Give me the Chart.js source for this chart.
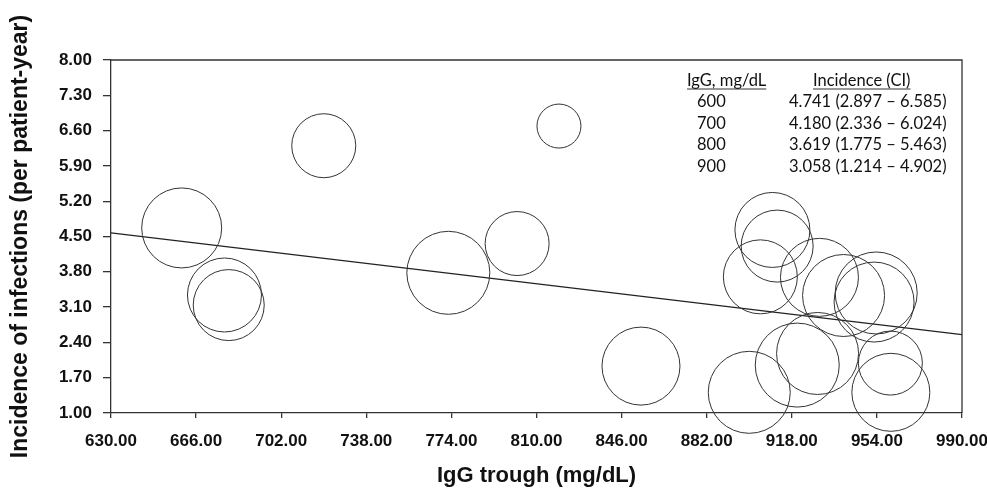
<!DOCTYPE html>
<html>
<head>
<meta charset="utf-8">
<title>IgG trough vs incidence of infections</title>
<script src="https://cdn.jsdelivr.net/npm/chart.js@4/dist/chart.umd.min.js"></script>
<style>
  html, body { margin: 0; padding: 0; background: #fff; }
  #wrap { width: 987px; height: 489px; }
</style>
</head>
<body>
<div id="wrap"><canvas id="chart" width="987" height="489"></canvas></div>
<script>
// bubbles: IgG trough (mg/dL), incidence (per patient-year), bubble size
const iggTrough = [659.9, 678.0, 679.8, 720.0, 772.7, 801.8, 819.5, 854.2, 909.8, 911.8,
                   904.7, 929.7, 939.9, 953.7, 952.8, 928.9, 920.3, 959.7, 959.9, 900.0];
const incidence = [4.67, 3.34, 3.14, 6.30, 3.78, 4.36, 6.69, 1.93, 4.63, 4.31,
                   3.70, 3.69, 3.33, 3.38, 3.20, 2.18, 1.95, 1.99, 1.41, 1.41];
const bubbleSize = [40, 37, 35.5, 32, 41.5, 32, 22, 39, 37.5, 36,
                    37, 39, 41, 41, 40, 41, 42, 32, 39, 41];

// fitted line
const trendX = [630, 990];
const trendY = [4.573, 2.553];

// axis ticks
const xTicks = [630, 666, 702, 738, 774, 810, 846, 882, 918, 954, 990];
const yTicks = [1.00, 1.70, 2.40, 3.10, 3.80, 4.50, 5.20, 5.90, 6.60, 7.30, 8.00];

// inset table
const tableIgG = ['600', '700', '800', '900'];
const tableIncidence = ['4.741 (2.897 \u2013 6.585)', '4.180 (2.336 \u2013 6.024)',
                        '3.619 (1.775 \u2013 5.463)', '3.058 (1.214 \u2013 4.902)'];

const LINE = '#333';
const TXT = '#111';
const AXIS_FONT = '"Liberation Sans", Arial, sans-serif';

const bubblePoints = iggTrough.map((x, i) => ({ x: x, y: incidence[i], r: bubbleSize[i] }));
const trendPoints = trendX.map((x, i) => ({ x: x, y: trendY[i] }));

// top and right frame of the plot + inset table
const framePlugin = {
  id: 'frame',
  afterDraw(chart) {
    const { ctx, chartArea: a } = chart;
    ctx.save();
    ctx.strokeStyle = LINE;
    ctx.lineWidth = 1.3;
    ctx.beginPath();
    ctx.moveTo(a.left, a.top);
    ctx.lineTo(a.right, a.top);
    ctx.lineTo(a.right, a.bottom);
    ctx.stroke();

    // table text (slightly tall font like the original)
    const sy = 1.08;
    ctx.font = '16.5px Lato, "Open Sans", sans-serif';
    ctx.fillStyle = TXT;
    ctx.textBaseline = 'alphabetic';
    ctx.lineWidth = 1;
    const drawText = (t, x, y, underline) => {
      ctx.save();
      ctx.translate(x, y);
      ctx.scale(1, sy);
      ctx.fillText(t, 0, 0);
      ctx.restore();
      if (underline) {
        const w = ctx.measureText(t).width;
        ctx.beginPath();
        ctx.moveTo(x, y + 3);
        ctx.lineTo(x + w, y + 3);
        ctx.stroke();
      }
    };
    ctx.textAlign = 'left';
    drawText('IgG, mg/dL', 687, 86, true);
    drawText('Incidence (CI)', 813, 86, true);
    tableIgG.forEach((t, i) => {
      const y = 107 + i * 21.7;
      drawText(t, 697, y, false);
      drawText(tableIncidence[i], 789, y, false);
    });
    ctx.restore();
  }
};

new Chart(document.getElementById('chart'), {
  type: 'bubble',
  data: {
    datasets: [
      {
        type: 'bubble',
        data: bubblePoints,
        backgroundColor: 'rgba(0,0,0,0)',
        borderColor: LINE,
        borderWidth: 1,
        hoverBorderWidth: 1,
        clip: false
      },
      {
        type: 'line',
        data: trendPoints,
        borderColor: '#222',
        borderWidth: 1.3,
        pointRadius: 0,
        fill: false,
        clip: false
      }
    ]
  },
  options: {
    responsive: false,
    animation: false,
    events: [],
    layout: { autoPadding: false, padding: { left: 0, top: 60, right: 25, bottom: 0 } },
    plugins: {
      legend: { display: false },
      tooltip: { enabled: false }
    },
    scales: {
      x: {
        type: 'linear',
        min: xTicks[0],
        max: xTicks[xTicks.length - 1],
        afterBuildTicks: (s) => { s.ticks = xTicks.map(v => ({ value: v })); },
        afterFit: (s) => { s.height = 76; s.paddingLeft = 0; s.paddingRight = 0; },
        ticks: {
          autoSkip: false,
          maxRotation: 0,
          padding: 13,
          color: TXT,
          font: { family: AXIS_FONT, size: 17, weight: 'bold' },
          callback: (v) => Number(v).toFixed(2)
        },
        grid: { drawOnChartArea: false, drawTicks: true, tickLength: 5, color: LINE, lineWidth: 1.3 },
        border: { display: true, color: LINE, width: 1.3 },
        title: {
          display: true,
          text: 'IgG trough (mg/dL)',
          color: TXT,
          padding: { top: 0, bottom: 0 },
          font: { family: AXIS_FONT, size: 22, weight: 'bold' }
        }
      },
      y: {
        type: 'linear',
        min: yTicks[0],
        max: yTicks[yTicks.length - 1],
        afterBuildTicks: (s) => { s.ticks = yTicks.map(v => ({ value: v })); },
        afterFit: (s) => { s.width = 111; s.paddingTop = 0; s.paddingBottom = 0; },
        ticks: {
          autoSkip: false,
          padding: 11,
          color: TXT,
          font: { family: AXIS_FONT, size: 17, weight: 'bold' },
          callback: (v) => Number(v).toFixed(2)
        },
        grid: { drawOnChartArea: false, drawTicks: true, tickLength: 8, color: LINE, lineWidth: 1.3 },
        border: { display: true, color: LINE, width: 1.3 },
        title: {
          display: true,
          text: 'Incidence of infections (per patient-year)',
          color: TXT,
          padding: { top: 7, bottom: 0 },
          font: { family: AXIS_FONT, size: 23, weight: 'bold' }
        }
      }
    }
  },
  plugins: [framePlugin]
});
</script>
</body>
</html>
